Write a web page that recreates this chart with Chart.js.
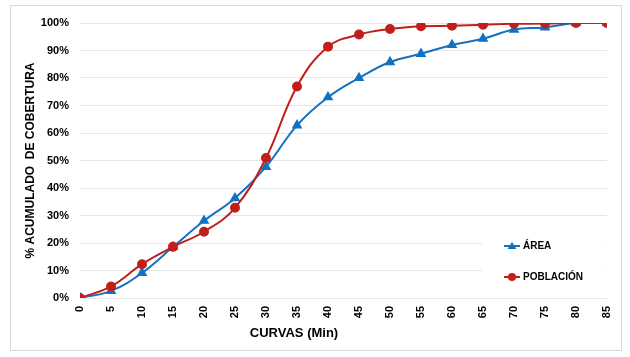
<!DOCTYPE html>
<html><head><meta charset="utf-8">
<script src="https://cdn.jsdelivr.net/npm/chart.js@4/dist/chart.umd.min.js"></script>
<style>
html,body{margin:0;padding:0;background:#fff;}
#wrap{position:relative;width:630px;height:357px;}
#frame{position:absolute;left:10px;top:5px;width:612px;height:346px;border:1px solid #d9d9d9;box-sizing:border-box;pointer-events:none;}
canvas{position:absolute;left:0;top:0;}
</style></head><body>
<div id="wrap"><canvas id="c" width="630" height="357"></canvas><div id="frame"></div></div>
<script>
const minutes = [0,5,10,15,20,25,30,35,40,45,50,55,60,65,70,75,80,85];
const area = [0,2.6,9.1,18.6,28.1,36.3,47.7,62.8,73.0,80.0,85.8,88.8,92.0,94.3,97.6,98.4,100,100];
const poblacion = [0,4.2,12.3,18.6,24.1,32.8,50.9,76.9,91.4,95.8,97.8,98.8,99.0,99.4,99.7,99.8,100,100];
const yTicks = [0,10,20,30,40,50,60,70,80,90,100];
const seriesNames = ['ÁREA','POBLACIÓN'];
const xTitle = 'CURVAS (Min)';
const blue = '#1272C2', red = '#C01F1B';
const FONT = '"Liberation Sans", Arial';

const extrasPlugin = {
  id:'extras',
  afterDraw(chart){
    const ctx = chart.ctx;
    ctx.save();
    // x-axis title
    ctx.fillStyle='#000'; ctx.font='bold 13px '+FONT;
    ctx.textAlign='center'; ctx.textBaseline='middle';
    ctx.fillText(xTitle,294,333);
    // legend
    ctx.fillStyle='#fff';
    ctx.fillRect(482,228,124,62);
    const ys=[246,277];
    chart.data.datasets.forEach((ds,i)=>{
      const y=ys[i];
      ctx.strokeStyle=ds.borderColor; ctx.lineWidth=2;
      ctx.beginPath(); ctx.moveTo(504,y); ctx.lineTo(520,y); ctx.stroke();
      ctx.fillStyle=ds.backgroundColor;
      if(ds.pointStyle==='triangle'){
        ctx.beginPath(); ctx.moveTo(512,y-4); ctx.lineTo(516.5,y+3); ctx.lineTo(507.5,y+3); ctx.closePath(); ctx.fill();
      } else {
        ctx.beginPath(); ctx.arc(512,y,4,0,Math.PI*2); ctx.fill();
      }
      ctx.fillStyle='#000'; ctx.font='bold 10px '+FONT;
      ctx.textBaseline='middle'; ctx.textAlign='left';
      ctx.fillText(ds.label,523,y);
    });
    ctx.restore();
  }
};

new Chart(document.getElementById('c'),{
  type:'line',
  data:{datasets:[
    {label:seriesNames[0],data:minutes.map((m,i)=>({x:m,y:area[i]})),borderColor:blue,backgroundColor:blue,
     pointStyle:'triangle',pointRadius:4.2,borderWidth:2,tension:0.4,order:2},
    {label:seriesNames[1],data:minutes.map((m,i)=>({x:m,y:poblacion[i]})),borderColor:red,backgroundColor:red,
     pointStyle:'circle',pointRadius:4,borderWidth:2,tension:0.4,order:1}
  ]},
  options:{
    responsive:false,animation:false,
    layout:{padding:{left:23,right:23,top:23,bottom:0}},
    plugins:{legend:{display:false},tooltip:{enabled:false}},
    scales:{
      x:{type:'linear',min:0,max:85,
        afterBuildTicks(s){s.ticks=minutes.map(v=>({value:v}));},
        afterFit(s){s.height=59;},
        grid:{display:false,drawTicks:false},border:{display:false},
        ticks:{minRotation:90,maxRotation:90,padding:8,color:'#000',font:{family:FONT,size:11,weight:'bold'}},
      },
      y:{min:0,max:100,
        afterBuildTicks(s){s.ticks=yTicks.map(v=>({value:v}));},
        afterFit(s){s.width=57;},
        grid:{color:'#e6e6e6',lineWidth:1,drawTicks:false},border:{display:false},
        ticks:{padding:11,color:'#000',callback:v=>v+'%',font:{family:FONT,size:11,weight:'bold'}},
        title:{display:true,text:'% ACUMULADO  DE COBERTURA',color:'#000',font:{family:FONT,size:12,weight:'bold'},padding:{top:0,bottom:0}}
      }
    }
  },
  plugins:[extrasPlugin]
});
</script>
</body></html>
